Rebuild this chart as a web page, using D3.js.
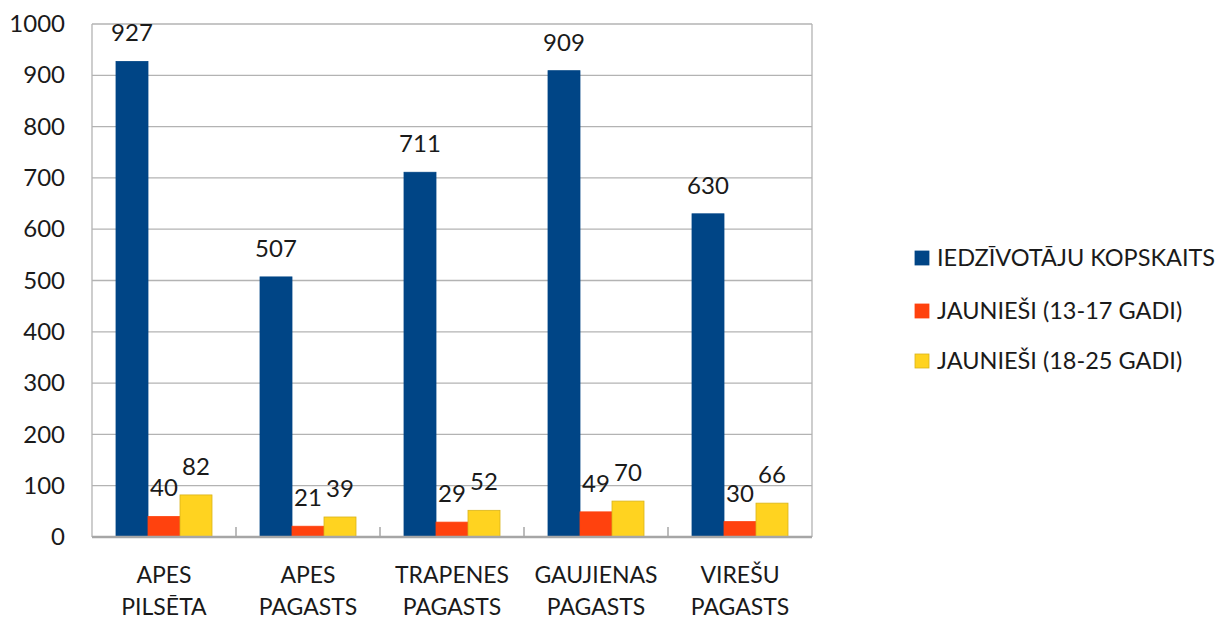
<!DOCTYPE html>
<html>
<head>
<meta charset="utf-8">
<script src="https://cdn.jsdelivr.net/npm/d3@7"></script>
<style>
  body { margin: 0; background: #fff; }
  text { font-family: Lato, "Open Sans", sans-serif; fill: #1a1a1a; }
</style>
</head>
<body>
<div id="chart"></div>
<script>
// data
var categories = [["APES", "PILSĒTA"], ["APES", "PAGASTS"], ["TRAPENES", "PAGASTS"], ["GAUJIENAS", "PAGASTS"], ["VIREŠU", "PAGASTS"]];
var seriesNames = ["IEDZĪVOTĀJU KOPSKAITS", "JAUNIEŠI (13-17 GADI)", "JAUNIEŠI (18-25 GADI)"];
var total = [927, 507, 711, 909, 630];
var youth1317 = [40, 21, 29, 49, 30];
var youth1825 = [82, 39, 52, 70, 66];
var yTicks = [0, 100, 200, 300, 400, 500, 600, 700, 800, 900, 1000];

var colors = ["#004586", "#ff420e", "#ffd320"];
var strokes = ["#004586", "#ff420e", "#d9b31a"];

var W = 1217, H = 620;
var margin = {top: 24, right: 405, bottom: 83, left: 92};
var width = W - margin.left - margin.right,
    height = H - margin.top - margin.bottom;

var svg = d3.select("#chart").append("svg")
    .attr("width", W)
    .attr("height", H);

var g = svg.append("g")
    .attr("transform", "translate(" + margin.left + "," + margin.top + ")");

var idx = d3.range(categories.length);

var x0 = d3.scaleBand().domain(idx).range([0, width]).paddingInner(0).paddingOuter(0);
var x1 = d3.scaleBand().domain([0, 1, 2]).range([24, x0.bandwidth() - 24]);
var y = d3.scaleLinear().domain([0, 1000]).range([height, 0]);

// grid lines
g.selectAll(".grid").data(yTicks).enter().append("line")
    .attr("x1", 0).attr("x2", width)
    .attr("y1", function(d) { return y(d); })
    .attr("y2", function(d) { return y(d); })
    .attr("stroke", "#b3b3b3").attr("stroke-width", 1.3);

// side borders
g.append("line").attr("x1", 0).attr("x2", 0).attr("y1", 0).attr("y2", height)
    .attr("stroke", "#b3b3b3").attr("stroke-width", 1.3);
g.append("line").attr("x1", width).attr("x2", width).attr("y1", 0).attr("y2", height)
    .attr("stroke", "#b3b3b3").attr("stroke-width", 1.3);

// y axis labels
var yAxis = g.append("g")
    .call(d3.axisLeft(y).tickValues(yTicks).tickFormat(d3.format("d")).tickSize(0).tickPadding(27));
yAxis.select(".domain").remove();
yAxis.selectAll("text").style("font-size", "24px").attr("fill", "#1a1a1a");

// bars
var series = [total, youth1317, youth1825];
series.forEach(function(vals, s) {
  var grp = g.append("g");
  grp.selectAll("rect").data(vals).enter().append("rect")
      .attr("x", function(d, i) { return x0(i) + x1(s); })
      .attr("y", function(d) { return y(d); })
      .attr("width", x1.bandwidth())
      .attr("height", function(d) { return height - y(d); })
      .attr("fill", colors[s])
      .attr("stroke", strokes[s])
      .attr("stroke-width", 0.8);
  grp.selectAll("text").data(vals).enter().append("text")
      .attr("x", function(d, i) { return x0(i) + x1(s) + x1.bandwidth() / 2; })
      .attr("y", function(d) { return y(d) - 20; })
      .attr("text-anchor", "middle")
      .style("font-size", "24px")
      .text(function(d) { return d; });
});

// x axis
g.append("line").attr("x1", 0).attr("x2", width).attr("y1", height).attr("y2", height)
    .attr("stroke", "#a6a6a6").attr("stroke-width", 2.5);
g.selectAll(".tk").data(idx.slice(1)).enter().append("line")
    .attr("x1", function(d) { return x0(d); })
    .attr("x2", function(d) { return x0(d); })
    .attr("y1", height).attr("y2", height - 10)
    .attr("stroke", "#a6a6a6").attr("stroke-width", 1.5);

var xl = g.selectAll(".xl").data(categories).enter().append("text")
    .attr("text-anchor", "middle")
    .attr("transform", function(d, i) { return "translate(" + (x0(i) + x0.bandwidth() / 2) + "," + (height + 46) + ")"; })
    .style("font-size", "23px");
xl.each(function(d) {
  var t = d3.select(this);
  d.forEach(function(line, k) {
    t.append("tspan").attr("x", 0).attr("y", k * 32).text(line);
  });
});

// legend
var legend = svg.append("g").attr("transform", "translate(915,0)");
var rowsY = [258, 311, 361];
seriesNames.forEach(function(name, s) {
  legend.append("rect")
      .attr("x", 0).attr("y", rowsY[s] - 7)
      .attr("width", 14).attr("height", 14)
      .attr("fill", colors[s]).attr("stroke", strokes[s]).attr("stroke-width", 0.8);
  legend.append("text")
      .attr("x", 22).attr("y", rowsY[s])
      .attr("dy", "0.35em")
      .style("font-size", "23.5px")
      .text(name);
});
</script>
</body>
</html>
